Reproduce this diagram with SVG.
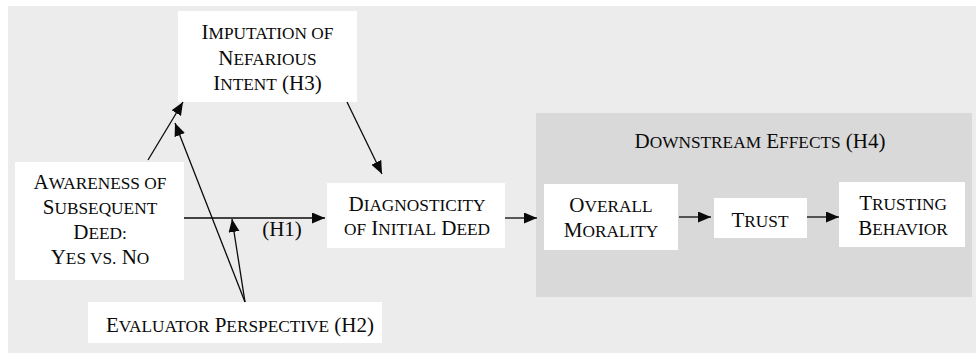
<svg xmlns="http://www.w3.org/2000/svg" width="976" height="355" viewBox="0 0 976 355">
<style>
.box{fill:#ffffff}
.t{font-family:"Liberation Serif","Times New Roman",serif;font-size:21px;fill:#0a0a0a;text-anchor:middle}
.s{font-size:17.3px}
.c{stroke:#0a0a0a;stroke-width:1.3;fill:none;marker-end:url(#ah)}
</style>
<defs>
<marker id="ah" markerUnits="userSpaceOnUse" markerWidth="14" markerHeight="12" refX="13" refY="5.5" orient="auto">
<path d="M0,0 L13,5.5 L0,11 Z" fill="#0a0a0a"/>
</marker>
</defs>
<rect x="0" y="0" width="976" height="355" fill="#ffffff"/>
<rect x="8" y="6" width="968" height="347" fill="#ececec"/>
<g id="downstream">
<rect x="536" y="113" width="436" height="184" fill="#d9d9d9"/>
<text class="t" x="760" y="148">D<tspan class="s">OWNSTREAM</tspan> E<tspan class="s">FFECTS</tspan> (H4)</text>
</g>
<g id="imputation">
<rect class="box" x="178" y="11" width="179" height="91"/>
<text class="t" x="267.5" y="39">I<tspan class="s">MPUTATION OF</tspan></text>
<text class="t" x="267.5" y="64.5">N<tspan class="s">EFARIOUS</tspan></text>
<text class="t" x="267.5" y="90">I<tspan class="s">NTENT</tspan> (H3)</text>
</g>
<g id="awareness">
<rect class="box" x="15" y="162" width="169" height="118"/>
<text class="t" x="100" y="189">A<tspan class="s">WARENESS OF</tspan></text>
<text class="t" x="100" y="214">S<tspan class="s">UBSEQUENT</tspan></text>
<text class="t" x="100" y="239">D<tspan class="s">EED:</tspan></text>
<text class="t" x="100" y="264">Y<tspan class="s">ES VS.</tspan> N<tspan class="s">O</tspan></text>
</g>
<g id="evaluator">
<rect class="box" x="88" y="302" width="294" height="41"/>
<text class="t" x="240" y="331.5">E<tspan class="s">VALUATOR</tspan> P<tspan class="s">ERSPECTIVE</tspan> (H2)</text>
</g>
<g id="diagnosticity">
<rect class="box" x="327" y="183" width="178" height="65"/>
<text class="t" x="417" y="211">D<tspan class="s">IAGNOSTICITY</tspan></text>
<text class="t" x="417" y="235"><tspan class="s">OF</tspan> I<tspan class="s">NITIAL</tspan> D<tspan class="s">EED</tspan></text>
</g>
<g id="overall">
<rect class="box" x="544" y="184" width="134" height="66"/>
<text class="t" x="611" y="212">O<tspan class="s">VERALL</tspan></text>
<text class="t" x="611" y="237">M<tspan class="s">ORALITY</tspan></text>
</g>
<g id="trust">
<rect class="box" x="714" y="198" width="93" height="40"/>
<text class="t" x="760" y="227">T<tspan class="s">RUST</tspan></text>
</g>
<g id="trusting">
<rect class="box" x="839" y="182" width="126" height="65"/>
<text class="t" x="903" y="210">T<tspan class="s">RUSTING</tspan></text>
<text class="t" x="903" y="235">B<tspan class="s">EHAVIOR</tspan></text>
</g>
<g id="connectors">
<line class="c" x1="148" y1="160" x2="183" y2="102"/>
<line class="c" x1="245" y1="302" x2="175" y2="123"/>
<line class="c" x1="245" y1="302" x2="232" y2="219"/>
<line class="c" x1="184" y1="218" x2="325" y2="218"/>
<line class="c" x1="347" y1="102" x2="382" y2="174"/>
<line class="c" x1="505" y1="218" x2="537" y2="218"/>
<line class="c" x1="679" y1="217" x2="711" y2="217"/>
<line class="c" x1="807" y1="217" x2="839" y2="217"/>
<text class="t" x="282" y="236">(H1)</text>
</g>
</svg>
